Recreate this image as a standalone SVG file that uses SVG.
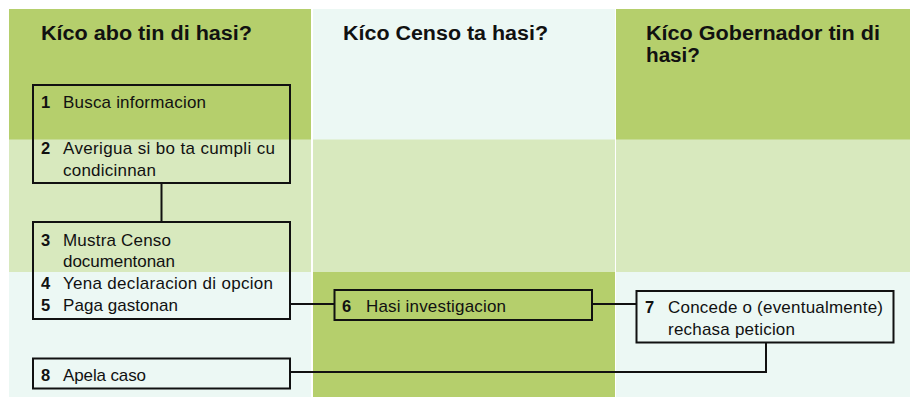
<svg xmlns="http://www.w3.org/2000/svg" width="910" height="398" viewBox="0 0 910 398">
<style>
.dk{fill:#b5cf6c}
.lt{fill:#d8e9be}
.pl{fill:#ecf8f4}
.hd{font-family:"Liberation Sans",Arial,sans-serif;font-weight:bold;font-size:20px;fill:#111}
.tx{font-family:"Liberation Sans",Arial,sans-serif;font-size:17px;fill:#111}
.nm{font-family:"Liberation Sans",Arial,sans-serif;font-weight:bold;font-size:16.5px;fill:#111}
.bx{fill:none;stroke:#111;stroke-width:2}
.cn{fill:none;stroke:#111;stroke-width:2}
</style>
<rect width="910" height="398" fill="#ffffff"/>
<g id="grid">
<rect class="dk" x="9" y="9" width="302" height="131"/>
<rect class="pl" x="313" y="9" width="302" height="131"/>
<rect class="dk" x="616" y="9" width="294" height="131"/>
<rect class="lt" x="9" y="139.5" width="302" height="133"/>
<rect class="lt" x="313" y="139.5" width="302" height="133"/>
<rect class="lt" x="616" y="139.5" width="294" height="133"/>
<rect class="pl" x="9" y="272" width="302" height="125"/>
<rect class="dk" x="313" y="272" width="302" height="125"/>
<rect class="pl" x="616" y="272" width="294" height="125"/>
</g>
<g id="headers">
<text class="hd" x="41" y="40" textLength="211" lengthAdjust="spacingAndGlyphs">Kíco abo tin di hasi?</text>
<text class="hd" x="343" y="40" textLength="205" lengthAdjust="spacingAndGlyphs">Kíco Censo ta hasi?</text>
<text class="hd" x="646" y="40" textLength="234" lengthAdjust="spacingAndGlyphs">Kíco Gobernador tin di</text>
<text class="hd" x="646" y="62" textLength="54" lengthAdjust="spacingAndGlyphs">hasi?</text>
</g>
<g id="connectors">
<line class="cn" x1="161.5" y1="183" x2="161.5" y2="222"/>
<line class="cn" x1="290" y1="304" x2="334" y2="304"/>
<line class="cn" x1="592" y1="304" x2="636" y2="304"/>
<polyline class="cn" points="766,342.5 766,372 290,372"/>
</g>
<g id="node1">
<rect class="bx" x="33" y="85" width="257" height="98"/>
<text class="nm" x="41" y="108">1</text>
<text class="tx" x="63" y="108" textLength="143" lengthAdjust="spacing">Busca informacion</text>
<text class="nm" x="41" y="154">2</text>
<text class="tx" x="63" y="154" textLength="212" lengthAdjust="spacing">Averigua si bo ta cumpli cu</text>
<text class="tx" x="63" y="176" textLength="93" lengthAdjust="spacing">condicinnan</text>
</g>
<g id="node2">
<rect class="bx" x="33" y="222" width="257" height="97"/>
<text class="nm" x="41" y="246">3</text>
<text class="tx" x="63" y="246" textLength="108" lengthAdjust="spacing">Mustra Censo</text>
<text class="tx" x="63" y="267" textLength="112" lengthAdjust="spacing">documentonan</text>
<text class="nm" x="41" y="289">4</text>
<text class="tx" x="63" y="289" textLength="210" lengthAdjust="spacing">Yena declaracion di opcion</text>
<text class="nm" x="41" y="311">5</text>
<text class="tx" x="63" y="311" textLength="115" lengthAdjust="spacing">Paga gastonan</text>
</g>
<g id="node6">
<rect class="bx" x="334.5" y="290" width="257.5" height="30"/>
<text class="nm" x="342" y="312">6</text>
<text class="tx" x="366" y="312" textLength="140" lengthAdjust="spacing">Hasi investigacion</text>
</g>
<g id="node7">
<rect class="bx" x="636.5" y="291" width="257" height="51.5"/>
<text class="nm" x="645" y="313">7</text>
<text class="tx" x="668" y="313" textLength="215" lengthAdjust="spacing">Concede o (eventualmente)</text>
<text class="tx" x="668" y="335" textLength="127" lengthAdjust="spacing">rechasa peticion</text>
</g>
<g id="node8">
<rect class="bx" x="33" y="358.5" width="257" height="30"/>
<text class="nm" x="41" y="381">8</text>
<text class="tx" x="63" y="381" textLength="83" lengthAdjust="spacing">Apela caso</text>
</g>
</svg>
